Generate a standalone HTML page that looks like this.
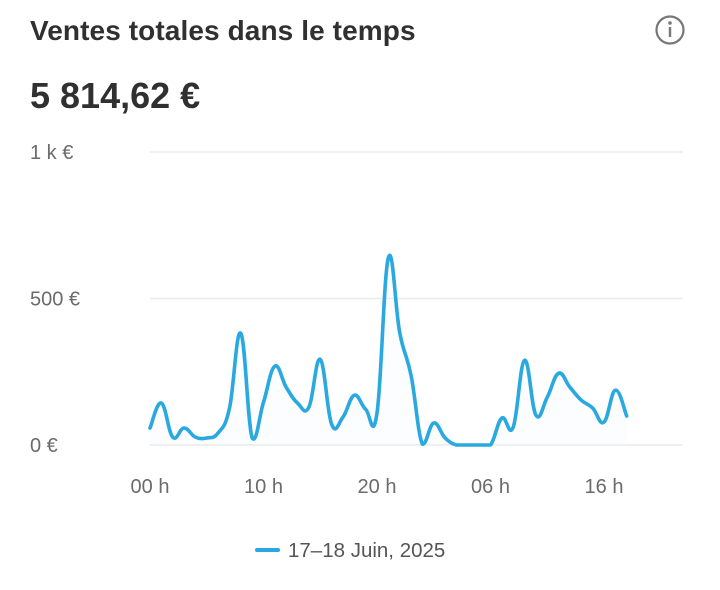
<!DOCTYPE html>
<html><head><meta charset="utf-8"><style>
body{margin:0;background:#fff;width:720px;height:585px;overflow:hidden;font-family:"Liberation Sans",sans-serif;}
</style></head><body>
<svg width="720" height="585" xmlns="http://www.w3.org/2000/svg">
<text x="30" y="40" font-size="28" font-weight="bold" fill="#303030" letter-spacing="0.1">Ventes totales dans le temps</text>
<g>
<circle cx="670" cy="30" r="13.5" fill="none" stroke="#777" stroke-width="2.2"/>
<circle cx="670" cy="23" r="1.8" fill="#777"/>
<rect x="668.8" y="27" width="2.4" height="10" fill="#777"/>
</g>
<text x="30" y="108" font-size="36" font-weight="bold" fill="#303030" letter-spacing="0">5 814,62 €</text>
<g id="grid"></g>
<g id="axes"></g>
<path id="area" fill="#2aa8e0" fill-opacity="0.02"/>
<path id="line" fill="none" stroke="#2aa8e0" stroke-width="3.6" stroke-linejoin="round" stroke-linecap="round"/>
<g>
<line x1="257" y1="550" x2="278" y2="550" stroke="#2aa8e0" stroke-width="4" stroke-linecap="round"/>
<text x="288" y="557" font-size="20.5" fill="#555">17–18 Juin, 2025</text>
</g>
</svg>
<script>
const values=[58,143,27,58,27,24,41,125,381,24,146,269,197,143,129,292,71,95,170,122,109,639,384,238,3,75,24,0,0,0,0,92,61,289,102,163,245,197,153,126,78,187,99];
const yTicks=[0,500,1000];
const yTickLabels=["0 €","500 €","1 k €"];
const xTickHours=[0,10,20,30,40];
const xTickLabels=["00 h","10 h","20 h","06 h","16 h"];
const NS="http://www.w3.org/2000/svg";
const X=h=>150+h*11.35;
const Y=v=>445-v*(293/1000);
const grid=document.getElementById('grid'),axes=document.getElementById('axes');
yTicks.forEach((t,i)=>{
 const l=document.createElementNS(NS,'line');
 l.setAttribute('x1',150);l.setAttribute('x2',683);l.setAttribute('y1',Y(t));l.setAttribute('y2',Y(t));
 l.setAttribute('stroke','#ebebeb');l.setAttribute('stroke-width','1.5');
 
 
 grid.appendChild(l);
 const tx=document.createElementNS(NS,'text');
 tx.setAttribute('x',30);tx.setAttribute('y',Y(t)+7);tx.setAttribute('font-size','20');tx.setAttribute('fill','#6b6b6b');
 tx.textContent=yTickLabels[i];
 
 
 axes.appendChild(tx);
});
xTickHours.forEach((h,i)=>{
 const tx=document.createElementNS(NS,'text');
 tx.setAttribute('x',X(h));tx.setAttribute('y',493);tx.setAttribute('font-size','20');tx.setAttribute('fill','#6b6b6b');tx.setAttribute('text-anchor','middle');
 tx.textContent=xTickLabels[i];
 
 
 axes.appendChild(tx);
});
const pts=values.map((v,i)=>[X(i),Y(v)]);
let d='M'+pts[0][0]+','+pts[0][1];
for(let i=0;i<pts.length-1;i++){
 const p0=pts[i-1]||pts[i],p1=pts[i],p2=pts[i+1],p3=pts[i+2]||p2;
 const t=0.2;
 let c1y=p1[1]+(p2[1]-p0[1])*t,c2y=p2[1]-(p3[1]-p1[1])*t;
 const base=Y(0);
 c1y=Math.min(c1y,base);c2y=Math.min(c2y,base);
 d+=' C'+(p1[0]+(p2[0]-p0[0])*t)+','+c1y+' '+(p2[0]-(p3[0]-p1[0])*t)+','+c2y+' '+p2[0]+','+p2[1];
}
document.getElementById('line').setAttribute('d',d);
document.getElementById('area').setAttribute('d',d+' L'+pts[pts.length-1][0]+','+Y(0)+' L'+pts[0][0]+','+Y(0)+' Z');
</script>
</body></html>
